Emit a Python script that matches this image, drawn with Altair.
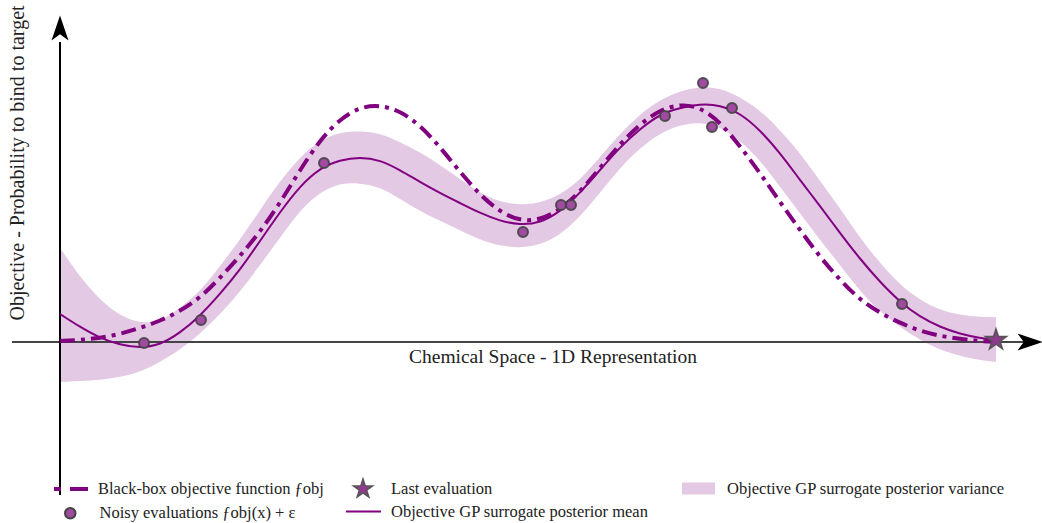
import altair as alt
import pandas as pd

# ---- data (x: position in 1D chemical space, y: objective) ----
X = [0.0, 0.2, 0.4, 0.6, 0.8, 1.0, 1.2, 1.4, 1.6, 1.8, 2.0, 2.2, 2.4, 2.6, 2.8, 3.0,
     3.2, 3.4, 3.6, 3.8, 4.0, 4.2, 4.4, 4.6, 4.8, 5.0, 5.2, 5.4, 5.6, 5.8, 6.0, 6.2,
     6.4, 6.6, 6.8, 7.0, 7.2, 7.4, 7.6, 7.8, 8.0, 8.2, 8.4, 8.6, 8.8, 9.0, 9.2, 9.36]
blackbox = [0.01, 0.02, 0.04, 0.08, 0.14, 0.21, 0.31, 0.44, 0.64, 0.86, 1.10, 1.39, 1.72, 2.02, 2.23, 2.35,
            2.37, 2.31, 2.17, 1.95, 1.70, 1.47, 1.30, 1.21, 1.22, 1.32, 1.50, 1.74, 1.98, 2.18, 2.32, 2.38,
            2.35, 2.20, 1.96, 1.69, 1.40, 1.12, 0.85, 0.62, 0.42, 0.29, 0.19, 0.11, 0.06, 0.03, 0.01, 0.00]
gp_mean = [0.28, 0.15, 0.04, -0.03, -0.06, -0.03, 0.09, 0.26, 0.48, 0.72, 1.01, 1.30, 1.56, 1.74, 1.82, 1.85,
           1.82, 1.72, 1.60, 1.49, 1.39, 1.29, 1.21, 1.17, 1.19, 1.30, 1.49, 1.72, 1.95, 2.13, 2.28, 2.34,
           2.38, 2.37, 2.29, 2.12, 1.89, 1.62, 1.36, 1.09, 0.83, 0.60, 0.40, 0.25, 0.15, 0.08, 0.04, 0.02]
gp_upper = [0.94, 0.65, 0.42, 0.26, 0.19, 0.20, 0.34, 0.50, 0.76, 1.02, 1.32, 1.61, 1.85, 2.02, 2.10, 2.11,
            2.09, 2.00, 1.90, 1.77, 1.63, 1.49, 1.40, 1.37, 1.39, 1.47, 1.62, 1.85, 2.08, 2.28, 2.42, 2.51,
            2.55, 2.54, 2.45, 2.32, 2.12, 1.89, 1.61, 1.34, 1.04, 0.79, 0.57, 0.42, 0.32, 0.27, 0.25, 0.25]
gp_lower = [-0.40, -0.39, -0.38, -0.35, -0.30, -0.20, -0.08, 0.08, 0.28, 0.50, 0.77, 1.04, 1.32, 1.50, 1.59, 1.59,
            1.55, 1.43, 1.31, 1.21, 1.12, 1.02, 0.96, 0.94, 0.97, 1.07, 1.25, 1.49, 1.74, 1.94, 2.09, 2.17,
            2.20, 2.15, 2.02, 1.82, 1.55, 1.29, 1.02, 0.77, 0.51, 0.30, 0.15, 0.02, -0.08, -0.14, -0.18, -0.20]
eval_x = [0.84, 1.41, 2.64, 4.63, 5.01, 5.11, 6.05, 6.43, 6.52, 6.72, 8.42]
eval_y = [-0.01, 0.22, 1.79, 1.10, 1.37, 1.37, 2.26, 2.59, 2.15, 2.34, 0.38]
last_x = [9.36]
last_y = [0.02]

LBL_BB = "Black-box objective function ƒobj"
LBL_NOISY = "Noisy evaluations ƒobj(x) + ε"
LBL_LAST = "Last evaluation"
LBL_MEAN = "Objective GP surrogate posterior mean"
LBL_VAR = "Objective GP surrogate posterior variance"
X_TITLE = "Chemical Space - 1D Representation"
Y_TITLE = "Objective - Probability to bind to target"

# axis decoration extents (data units)
x_axis_from, x_axis_to = -0.48, 9.65
y_axis_from, y_axis_to = -1.53, 3.0
x_arrow = (9.70, 0.0)
y_arrow = (0.0, 3.14)

PURPLE = "#800080"
FONT = "Liberation Serif"
LFS = 16.5

curves = pd.DataFrame({"x": X, "bb": blackbox, "mean": gp_mean, "lo": gp_lower, "hi": gp_upper})
curves["n_bb"] = LBL_BB
curves["n_mean"] = LBL_MEAN
curves["n_var"] = LBL_VAR
evals = pd.DataFrame({"x": eval_x, "y": eval_y, "n": LBL_NOISY})
last = pd.DataFrame({"x": last_x, "y": last_y, "n": LBL_LAST})

xs = alt.Scale(domain=[-0.6, 9.82], nice=False, zero=False)
ys = alt.Scale(domain=[-1.81, 3.42], nice=False, zero=False)

STAR = ("M0,-1 L0.2245,-0.309 L0.951,-0.309 L0.363,0.118 L0.588,0.809 L0,0.382 "
        "L-0.588,0.809 L-0.363,0.118 L-0.951,-0.309 L-0.2245,-0.309 Z")
RECT = "M-1,-0.36 L1,-0.36 L1,0.36 L-1,0.36 Z"
ARROW = "M1,0 L-1,-0.68 L-0.5,0 L-1,0.68 Z"


def leg(x, y, **kw):
    base = dict(orient="none", legendX=x, legendY=y, title=None, padding=0,
                labelFont=FONT, labelFontSize=LFS, labelColor="#222222", labelLimit=400)
    base.update(kw)
    return alt.Legend(**base)


band = alt.Chart(curves).mark_area(interpolate="basis").encode(
    x=alt.X("x:Q", scale=xs, axis=None),
    y=alt.Y("lo:Q", scale=ys, axis=None),
    y2="hi:Q",
    color=alt.Color("n_var:N", scale=alt.Scale(range=["#e3c9e3"]),
                    legend=leg(682, 472, symbolType=RECT, symbolSize=1089, labelOffset=12,
                               symbolStrokeWidth=0)),
)

axes_df = pd.DataFrame({"x1": [x_axis_from, 0.0], "x2": [x_axis_to, 0.0],
                        "y1": [0.0, y_axis_from], "y2": [0.0, y_axis_to],
                        "c": ["#444444", "#000000"]})
axes = alt.Chart(axes_df).mark_rule(strokeWidth=2).encode(
    x=alt.X("x1:Q", scale=xs), x2="x2:Q",
    y=alt.Y("y1:Q", scale=ys), y2="y2:Q",
    stroke=alt.Stroke("c:N", scale=None),
)

dashed = alt.Chart(curves).mark_line(interpolate="basis", strokeWidth=4,
                                     strokeDash=[15, 6, 4, 6]).encode(
    x=alt.X("x:Q", scale=xs),
    y=alt.Y("bb:Q", scale=ys),
    color=alt.Color("n_bb:N", scale=alt.Scale(range=[PURPLE]),
                    legend=leg(52, 469, symbolType="stroke", symbolSize=1296, symbolStrokeWidth=4,
                               symbolDash=[7, 9, 18, 6], labelOffset=6)),
)

mean = alt.Chart(curves).mark_line(interpolate="basis", strokeWidth=2).encode(
    x=alt.X("x:Q", scale=xs),
    y=alt.Y("mean:Q", scale=ys),
    color=alt.Color("n_mean:N", scale=alt.Scale(range=[PURPLE]),
                    legend=leg(345, 493, symbolType="stroke", symbolSize=1225, symbolStrokeWidth=2,
                               labelOffset=9)),
)

pts = alt.Chart(evals).mark_point(filled=True, size=100, opacity=1, stroke="#444444",
                                  strokeWidth=2, strokeOpacity=0.9).encode(
    x=alt.X("x:Q", scale=xs),
    y=alt.Y("y:Q", scale=ys),
    color=alt.Color("n:N", scale=alt.Scale(range=["#a04aa0"]),
                    legend=leg(62, 505, symbolType="circle", symbolSize=110, labelOffset=21,
                               symbolStrokeColor="#444444", symbolStrokeWidth=2)),
)

star = alt.Chart(last).mark_point(filled=True, size=484, opacity=1, shape=STAR,
                                  stroke="#555555", strokeWidth=1.5).encode(
    x=alt.X("x:Q", scale=xs),
    y=alt.Y("y:Q", scale=ys),
    color=alt.Color("n:N", scale=alt.Scale(range=["#8e3a8e"]),
                    legend=leg(352, 478, symbolType=STAR, symbolSize=400, labelOffset=17,
                               symbolStrokeColor="#555555", symbolStrokeWidth=1.5)),
)

arrows_df = pd.DataFrame({"x": [x_arrow[0], y_arrow[0]], "y": [x_arrow[1], y_arrow[1]],
                          "a": [0, 270]})
arrows = alt.Chart(arrows_df).mark_point(filled=True, shape=ARROW, size=625, color="black",
                                         opacity=1).encode(
    x=alt.X("x:Q", scale=xs),
    y=alt.Y("y:Q", scale=ys),
    angle=alt.Angle("a:Q", scale=None),
)

xlab = alt.Chart(pd.DataFrame({"t": [X_TITLE]})).mark_text(
    font=FONT, fontSize=19.5, color="#222222", baseline="middle", align="center"
).encode(text="t:N", x=alt.value(553), y=alt.value(357))

ylab = alt.Chart(pd.DataFrame({"t": [Y_TITLE]})).mark_text(
    font=FONT, fontSize=20, color="#222222", baseline="middle", align="center", angle=270
).encode(text="t:N", x=alt.value(18), y=alt.value(163))

chart = alt.layer(band, axes, dashed, mean, pts, star, arrows, xlab, ylab).resolve_scale(
    color="independent"
).resolve_legend(color="independent").properties(
    width=1042, height=523, padding=0, autosize=alt.AutoSizeParams(type="none")
).configure_view(stroke=None)

chart.save("out.html", embed_options={"renderer": "svg", "actions": False})
